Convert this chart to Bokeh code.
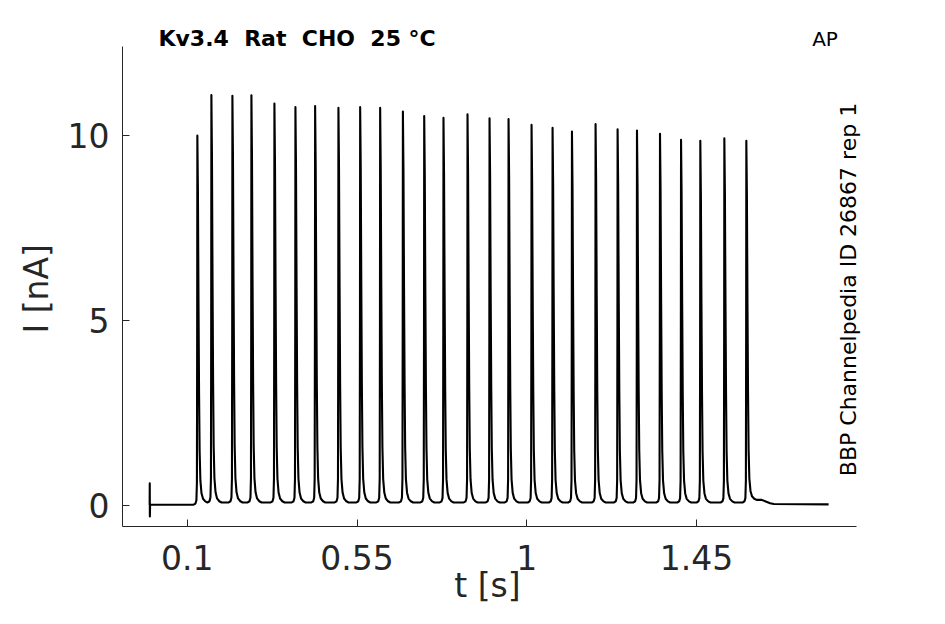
import math
from bokeh.plotting import figure
from bokeh.models import Range1d, FixedTicker, Label, ColumnDataSource
from bokeh.embed import file_html
from bokeh.resources import INLINE

# ---------------- data ----------------
spike_t = [0.1265, 0.1637, 0.2194, 0.2698, 0.3308, 0.3865, 0.4387, 0.5005,
           0.5581, 0.6111, 0.6714, 0.7279, 0.7790, 0.8427, 0.9011, 0.9515,
           1.0125, 1.0682, 1.1196, 1.1822, 1.2406, 1.2920, 1.3530, 1.4088,
           1.4599, 1.5236, 1.5819]
spike_peak = [10.00, 11.10, 11.08, 11.09, 10.87, 10.77, 10.80, 10.75,
              10.77, 10.75, 10.65, 10.53, 10.48, 10.58, 10.47, 10.45,
              10.29, 10.21, 10.11, 10.31, 10.17, 10.14, 10.05, 9.89,
              9.86, 9.93, 9.86]
# shape of one spike: time offset from peak [s], fraction of peak height
shape_dt = [-0.010, -0.005, -0.0025, -0.0012, -0.0005, 0.0, 0.0015, 0.003,
            0.0045, 0.006, 0.008, 0.011, 0.015, 0.021, 0.027]
shape_frac = [0.0, 0.003, 0.012, 0.06, 0.45, 1.0, 0.85, 0.55,
              0.3, 0.14, 0.06, 0.025, 0.01, 0.003, 0.0]
# start transient
start_t = [0.0, 0.0003, 0.0006, 0.0012]
start_i = [0.02, 0.60, -0.30, 0.02]
base_before = 0.02
base_between = 0.08
base_after = 0.15
# tail after the train
tail_t = [1.623, 1.635, 1.645, 1.655, 1.800]
tail_i = [0.15, 0.10, 0.06, 0.04, 0.03]

x_ticks = [0.1, 0.55, 1.0, 1.45]
x_tick_labels = ["0.1", "0.55", "1", "1.45"]
y_ticks = [0, 5, 10]
y_tick_labels = ["0", "5", "10"]
x_axis_span = (-0.072, 1.874)
y_axis_span = (-0.57, 12.41)

NB = "\u00a0"
title_text = "Kv3.4" + NB * 2 + "Rat" + NB * 2 + "CHO" + NB * 2 + "25 °C"
tag_text = "AP"
side_text = "BBP Channelpedia ID 26867 rep 1"
x_label = "t [s]"
y_label = "I [nA]"

# ---------------- build trace ----------------
ts = list(start_t)
ys = list(start_i)
n = len(spike_t)
for k in range(n):
    pre = base_before if k == 0 else base_between
    post = base_between if k < n - 1 else base_after
    for dt, fr in zip(shape_dt, shape_frac):
        b = pre if dt < 0 else post
        ts.append(spike_t[k] + dt)
        ys.append(b + fr * (spike_peak[k] - b))
ts += tail_t
ys += tail_i

src = ColumnDataSource(dict(t=ts, i=ys))

FONT = "DejaVu Sans"
GRAY = "#262626"
W, H = 929, 608

# the frame fills the whole canvas; axes sit at fixed data locations
p = figure(width=W, height=H,
           x_range=Range1d(-0.3954, 2.0675), y_range=Range1d(-2.787, 13.654),
           output_backend="svg", toolbar_location=None,
           min_border=0, min_border_left=0, min_border_right=0,
           min_border_top=0, min_border_bottom=0)
p.title.visible = False
p.outline_line_color = None
p.xgrid.grid_line_color = None
p.ygrid.grid_line_color = None
p.background_fill_color = "white"
p.border_fill_color = "white"

p.line("t", "i", source=src, line_color="black", line_width=2.1,
       line_join="round")

for ax, ticks, labels in ((p.xaxis[0], x_ticks, x_tick_labels),
                          (p.yaxis[0], y_ticks, y_tick_labels)):
    ax.ticker = FixedTicker(ticks=ticks)
    ax.major_label_overrides = {float(t): l for t, l in zip(ticks, labels)}
    ax.major_tick_in = 7
    ax.major_tick_out = 0
    ax.minor_tick_line_color = None
    ax.axis_line_color = GRAY
    ax.major_tick_line_color = GRAY
    ax.major_label_text_color = GRAY
    ax.major_label_text_font = FONT
    ax.major_label_text_font_size = "33px"
p.xaxis[0].fixed_location = y_axis_span[0]
p.xaxis[0].bounds = x_axis_span
p.yaxis[0].fixed_location = x_axis_span[0]
p.yaxis[0].bounds = y_axis_span
p.xaxis[0].major_label_standoff = 18
p.yaxis[0].major_label_standoff = 13

p.add_layout(Label(x=0.0234, y=12.618, text=title_text, text_font=FONT,
                   text_font_size="22px", text_font_style="bold",
                   text_color="black", text_baseline="alphabetic"))
p.add_layout(Label(x=1.7565, y=12.616, text=tag_text, text_font=FONT,
                   text_font_size="20px", text_color="black",
                   text_baseline="alphabetic"))
p.add_layout(Label(x=1.8517, y=5.839, text=side_text, text_font=FONT,
                   text_font_size="22px", text_color="black",
                   angle=math.pi / 2, text_align="center",
                   text_baseline="alphabetic"))
p.add_layout(Label(x=0.8957, y=-2.175, text=x_label, text_font=FONT,
                   text_font_size="33px", text_color=GRAY,
                   text_align="center", text_baseline="alphabetic"))
p.add_layout(Label(x=-0.3005, y=5.857, text=y_label, text_font=FONT,
                   text_font_size="33px", text_color=GRAY,
                   angle=math.pi / 2, text_align="center",
                   text_baseline="alphabetic"))

open("out.html", "w").write(file_html(p, INLINE))
